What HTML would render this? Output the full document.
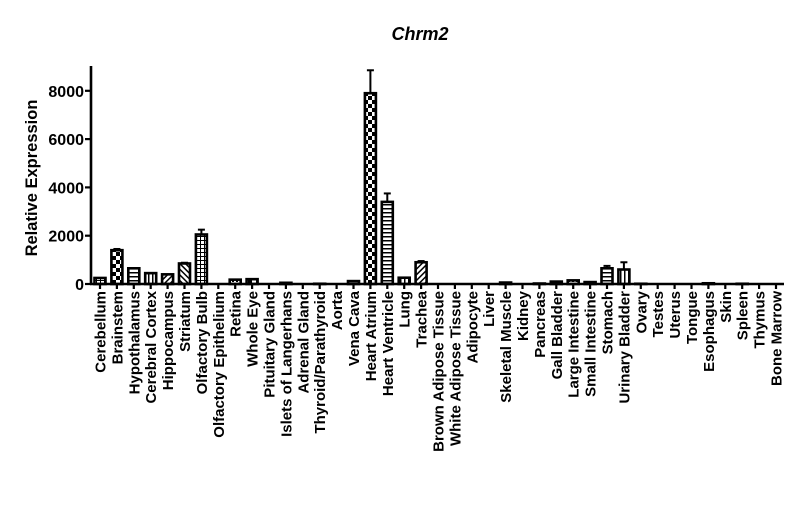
<!DOCTYPE html>
<html><head><meta charset="utf-8"><style>
html,body{margin:0;padding:0;background:#fff;width:800px;height:522px;overflow:hidden}
text{font-family:"Liberation Sans",Arial,sans-serif;font-weight:bold;fill:#000}
</style></head><body>
<svg id="s" width="800" height="522" xmlns="http://www.w3.org/2000/svg">
<defs>
<pattern id="p0" width="4" height="4" patternUnits="userSpaceOnUse"><rect width="4" height="4" fill="#fff"/><rect width="2" height="2" fill="#000"/></pattern>
<pattern id="p1" width="8" height="8" patternUnits="userSpaceOnUse"><rect width="8" height="8" fill="#fff"/><rect width="4" height="4" fill="#000"/><rect x="4" y="4" width="4" height="4" fill="#000"/></pattern>
<pattern id="p2" width="4" height="4" patternUnits="userSpaceOnUse"><rect width="4" height="4" fill="#fff"/><rect width="4" height="1.5" fill="#000"/></pattern>
<pattern id="p3" width="4" height="4" patternUnits="userSpaceOnUse"><rect width="4" height="4" fill="#fff"/><rect width="1.5" height="4" fill="#000"/></pattern>
<pattern id="p4" width="4" height="4" patternUnits="userSpaceOnUse" patternTransform="rotate(45)"><rect width="4" height="4" fill="#fff"/><rect width="1.5" height="4" fill="#000"/></pattern>
<pattern id="p5" width="4" height="4" patternUnits="userSpaceOnUse" patternTransform="rotate(-45)"><rect width="4" height="4" fill="#fff"/><rect width="1.5" height="4" fill="#000"/></pattern>
<pattern id="p6" width="4" height="4" patternUnits="userSpaceOnUse"><rect width="4" height="4" fill="#fff"/><rect width="4" height="1" fill="#000"/><rect width="1" height="4" fill="#000"/></pattern>
</defs>
<text x="420" y="40" font-size="18" font-style="italic" text-anchor="middle">Chrm2</text>
<text transform="translate(37,178) rotate(-90)" font-size="16.5" text-anchor="middle">Relative Expression</text>
<g id="g"></g>
</svg>
<script>
var names=["Cerebellum","Brainstem","Hypothalamus","Cerebral Cortex","Hippocampus","Striatum","Olfactory Bulb","Olfactory Epithelium","Retina","Whole Eye","Pituitary Gland","Islets of Langerhans","Adrenal Gland","Thyroid/Parathyroid","Aorta","Vena Cava","Heart Atrium","Heart Ventricle","Lung","Trachea","Brown Adipose Tissue","White Adipose Tissue","Adipocyte","Liver","Skeletal Muscle","Kidney","Pancreas","Gall Bladder","Large Intestine","Small Intestine","Stomach","Urinary Bladder","Ovary","Testes","Uterus","Tongue","Esophagus","Skin","Spleen","Thymus","Bone Marrow"];
var vals=[250,1400,650,450,400,850,2050,0,180,200,0,50,0,10,0,120,7900,3400,260,900,0,0,0,0,60,0,20,100,150,80,650,600,10,0,0,0,30,0,10,0,0];
var errs={6:2250,16:8850,17:3750,30:750,31:900,1:1450,5:880,19:950};
var pats=["p6","p1","p2","p3","p4","p5","p6","p0","p0","p1","p2","p3","p4","p5","p6","p0","p1","p2","p3","p4"];
var y0=284,k=0.02415,x0=100,dx=16.9,h='';
for(var i=0;i<names.length;i++){
 var x=x0+i*dx,v=vals[i],y=y0-v*k;
 if(v>0){var pt=pats[i%pats.length];
  h+='<rect x="'+(x-5.5)+'" y="'+y+'" width="11" height="'+(y0-y)+'" fill="url(#'+pt+')" stroke="#000" stroke-width="2.6"/>';}
 if(errs[i]){var ye=y0-errs[i]*k;h+='<line x1="'+x+'" y1="'+y+'" x2="'+x+'" y2="'+ye+'" stroke="#000" stroke-width="2"/><line x1="'+(x-3.5)+'" y1="'+ye+'" x2="'+(x+3.5)+'" y2="'+ye+'" stroke="#000" stroke-width="2"/>';}
 h+='<line x1="'+x+'" y1="'+y0+'" x2="'+x+'" y2="'+(y0+5)+'" stroke="#000" stroke-width="2.2"/>';
 h+='<text transform="translate('+(x+5.5)+','+(y0+7)+') rotate(-90)" font-size="15" text-anchor="end">'+names[i]+'</text>';
}
h+='<line x1="91" y1="66" x2="91" y2="285" stroke="#000" stroke-width="2.6"/>';
h+='<line x1="90" y1="284" x2="784" y2="284" stroke="#000" stroke-width="2.6"/>';
[0,2000,4000,6000,8000].forEach(function(t){var y=y0-t*k;h+='<line x1="85" y1="'+y+'" x2="91" y2="'+y+'" stroke="#000" stroke-width="2.2"/><text x="84" y="'+(y+6)+'" font-size="16" text-anchor="end">'+t+'</text>';});
document.getElementById('g').innerHTML=h;
</script>
</body></html>
